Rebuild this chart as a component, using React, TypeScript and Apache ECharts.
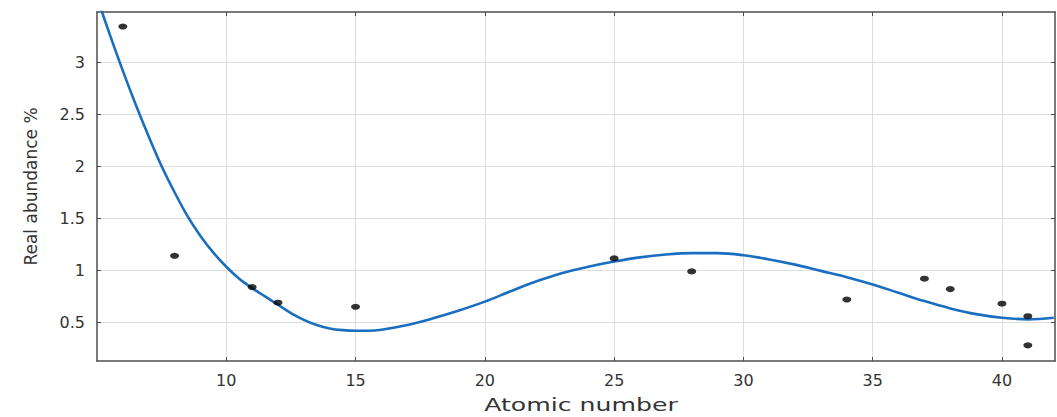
import React, { useEffect, useRef } from "react";
import * as echarts from "echarts";

const xTicks = [10, 15, 20, 25, 30, 35, 40];
const yTicks = [0.5, 1, 1.5, 2, 2.5, 3];

const pointX = [6, 8, 11, 12, 15, 25, 28, 34, 37, 38, 40, 41, 41];
const pointY = [3.34, 1.14, 0.84, 0.69, 0.65, 1.115, 0.99, 0.72, 0.92, 0.82, 0.68, 0.56, 0.28];

const fitX = [5, 5.5, 6, 6.5, 7, 7.5, 8, 8.5, 9, 9.5, 10, 10.5, 11, 11.5, 12, 12.5, 13, 13.5, 14, 14.5, 15, 15.5, 16, 17, 18, 19, 20, 21, 22, 23, 24, 25, 26, 27, 28, 29, 30, 31, 32, 33, 34, 35, 36, 37, 38, 39, 40, 41, 42];
const fitY = [3.62, 3.26, 2.915, 2.59, 2.285, 2.0, 1.75, 1.52, 1.33, 1.17, 1.035, 0.92, 0.83, 0.75, 0.67, 0.59, 0.525, 0.475, 0.442, 0.426, 0.42, 0.42, 0.43, 0.475, 0.54, 0.615, 0.7, 0.8, 0.895, 0.975, 1.035, 1.085, 1.125, 1.152, 1.165, 1.165, 1.145, 1.105, 1.055, 0.995, 0.935, 0.865, 0.785, 0.705, 0.635, 0.58, 0.545, 0.53, 0.545];

const xTitle = "Atomic number";
const yTitle = "Real abundance %";

const FONT = "DejaVu Sans";
const TEXT = "#333333";
const AXIS = "#4d4d4d";
const GRID = "#dedede";

export default function App() {
  const ref = useRef<HTMLDivElement>(null);
  useEffect(() => {
    const chart = echarts.init(ref.current!, null, { renderer: "svg" });
    const xMin = 5, xMax = 42.05, yMin = 0.13, yMax = 3.48;
    chart.setOption({
      animation: false,
      backgroundColor: "#ffffff",
      grid: { left: 97, right: 2, top: 12, bottom: 56, containLabel: false },
      graphic: [
        {
          type: "text",
          x: 581,
          y: 405,
          scaleX: 1.4,
          style: {
            text: xTitle,
            font: `18px "${FONT}"`,
            fill: TEXT,
            align: "center",
            verticalAlign: "middle",
          },
        },
      ],
      xAxis: [
        {
          type: "value", min: xMin, max: xMax, position: "bottom",
          axisLine: { show: true, onZero: false, lineStyle: { color: AXIS, width: 1.5 } },
          axisTick: { show: true, inside: true, length: 4, customValues: xTicks, lineStyle: { color: AXIS } },
          axisLabel: { customValues: xTicks, margin: 11, fontFamily: FONT, fontSize: 16, color: TEXT },
          splitLine: { show: true, lineStyle: { color: GRID, width: 1 } },
        },
        {
          type: "value", min: xMin, max: xMax, position: "top",
          axisLine: { show: true, onZero: false, lineStyle: { color: AXIS, width: 1.5 } },
          axisTick: { show: true, inside: true, length: 4, customValues: xTicks, lineStyle: { color: AXIS } },
          axisLabel: { show: false },
          splitLine: { show: false },
        },
      ],
      yAxis: [
        {
          type: "value", min: yMin, max: yMax, position: "left",
          name: yTitle, nameLocation: "middle", nameGap: 58, nameRotate: 90,
          nameTextStyle: { fontFamily: FONT, fontSize: 17, color: TEXT },
          axisLine: { show: true, onZero: false, lineStyle: { color: AXIS, width: 1.5 } },
          axisTick: { show: true, inside: true, length: 4, customValues: yTicks, lineStyle: { color: AXIS } },
          axisLabel: { customValues: yTicks, margin: 12, fontFamily: FONT, fontSize: 16, color: TEXT },
          splitLine: { show: true, lineStyle: { color: GRID, width: 1 } },
        },
        {
          type: "value", min: yMin, max: yMax, position: "right",
          axisLine: { show: true, onZero: false, lineStyle: { color: AXIS, width: 1.5 } },
          axisTick: { show: true, inside: true, length: 4, customValues: yTicks, lineStyle: { color: AXIS } },
          axisLabel: { show: false },
          splitLine: { show: false },
        },
      ],
      series: [
        {
          type: "line",
          xAxisIndex: 0, yAxisIndex: 0,
          data: fitX.map((x, i) => [x, fitY[i]]),
          smooth: 0.35,
          showSymbol: false,
          clip: true,
          lineStyle: { color: "#1a6ebf", width: 2.6 },
          z: 3,
        },
        {
          type: "scatter",
          xAxisIndex: 0, yAxisIndex: 0,
          data: pointX.map((x, i) => [x, pointY[i]]),
          symbol: "circle",
          symbolSize: [9, 6],
          itemStyle: { color: "#000000" },
          z: 4,
        },
      ],
    });
    return () => chart.dispose();
  }, []);
  return (
    <div
      ref={ref}
      style={{ position: "absolute", left: 0, top: 0, width: 1057, height: 417 }}
    />
  );
}
